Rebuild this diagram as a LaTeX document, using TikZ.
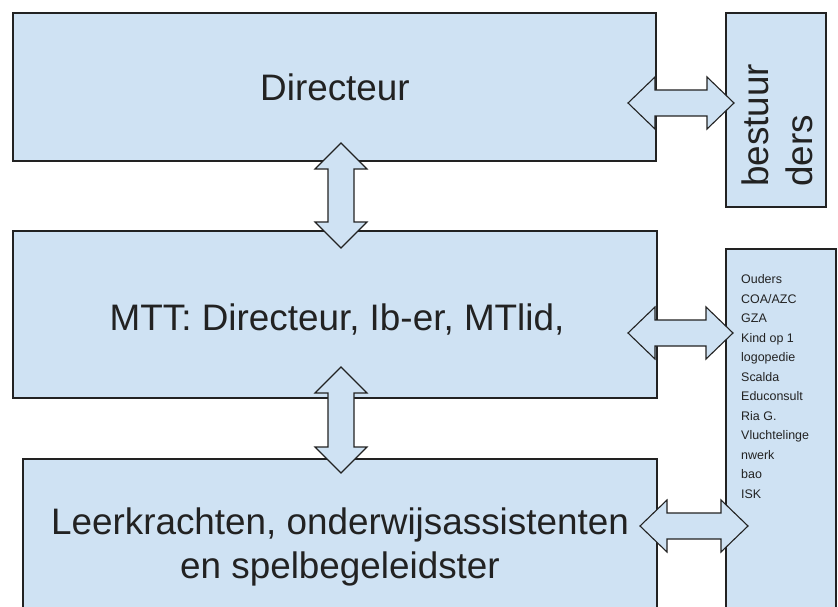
\documentclass[tikz,border=0pt]{standalone}
\usepackage{fontspec}
\setmainfont{Liberation Sans}
\definecolor{boxblue}{HTML}{CFE2F3}
\definecolor{ink}{HTML}{222222}
\newcommand\hdblarrow[3]{% x1, x2, y
  \path[barrow] (#1,#3) -- ({#1+27},{#3-26}) -- ({#1+27},{#3-13}) -- ({#2-27},{#3-13})
    -- ({#2-27},{#3-26}) -- (#2,#3) -- ({#2-27},{#3+26}) -- ({#2-27},{#3+13})
    -- ({#1+27},{#3+13}) -- ({#1+27},{#3+26}) -- cycle;}
\newcommand\vdblarrow[3]{% y1, y2, x
  \path[barrow] (#3,#1) -- ({#3+26},{#1+26}) -- ({#3+13},{#1+26}) -- ({#3+13},{#2-26})
    -- ({#3+26},{#2-26}) -- (#3,#2) -- ({#3-26},{#2-26}) -- ({#3-13},{#2-26})
    -- ({#3-13},{#1+26}) -- ({#3-26},{#1+26}) -- cycle;}
\begin{document}
\begin{tikzpicture}[x=1bp,y=-1bp,
  box/.style={draw=ink, line width=1.6bp, fill=boxblue, inner sep=0pt, outer sep=0pt, anchor=north west},
  barrow/.style={draw=ink, line width=1.1bp, fill=boxblue, line join=miter},
  big/.style={font=\fontsize{37}{44}\selectfont, text=ink, inner sep=0pt},
  small/.style={font=\fontsize{12.5}{19.6}\selectfont, text=ink, inner sep=0pt, align=left}
]
\useasboundingbox (0,0) rectangle (838,607);
\clip (0,0) rectangle (838,607);
% boxes
\node[box, minimum width=643bp, minimum height=148bp] (dirbox) at (13,13) {};
\node[box, minimum width=100bp, minimum height=194bp] (bestbox) at (726,13) {};
\node[box, minimum width=644bp, minimum height=167bp] (mttbox) at (13,231) {};
\node[box, minimum width=110bp, minimum height=380bp] (listbox) at (726,249) {};
\node[box, minimum width=634bp, minimum height=180bp] (leerbox) at (23,459) {};
% texts
\node[big, anchor=base] (dirtxt) at (335,101) {Directeur};
\node[big, anchor=base] (mtttxt) at (337,330) {MTT: Directeur, Ib-er, MTlid,};
\node[big, anchor=base, align=center] (leertxt) at (340,578) {Leerkrachten, onderwijsassistenten\\en spelbegeleidster};
\node[big, rotate=90, anchor=base west, align=left] (besttxt) at (812,187) {bestuur\\ders};
\node[small, anchor=north west] (listtxt) at (741,274.5) {Ouders\\COA/AZC\\GZA\\Kind op 1\\logopedie\\Scalda\\Educonsult\\Ria G.\\Vluchtelinge\\nwerk\\bao\\ISK};
% block arrows
\hdblarrow{628}{734}{103}
\vdblarrow{143}{248}{341}
\hdblarrow{628}{733}{333}
\vdblarrow{367}{473}{341}
\hdblarrow{640}{748}{526}
\end{tikzpicture}
\end{document}
